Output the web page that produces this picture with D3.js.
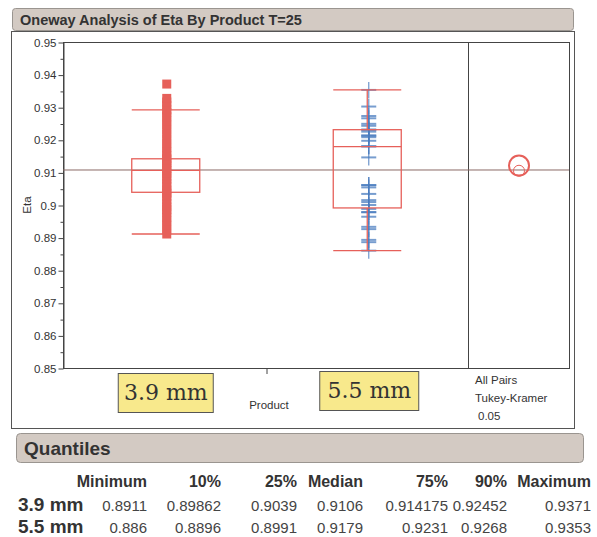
<!DOCTYPE html>
<html>
<head>
<meta charset="utf-8">
<script src="https://cdn.jsdelivr.net/npm/d3@7"></script>
<style>
  body { margin: 0; background: #fff; }
  text { font-family: "Liberation Sans", Arial, sans-serif; fill: #333; }
</style>
</head>
<body>
<svg id="chart" width="597" height="537"></svg>
<script>

// data
var products = ['3.9 mm', '5.5 mm'];
var eta39 = [0.8911, 0.8924, 0.8938, 0.8951, 0.8963, 0.8977, 0.8986, 0.8994, 0.9005, 0.9016,
             0.9027, 0.9035, 0.9039, 0.9046, 0.9058, 0.9067, 0.9079, 0.9088, 0.9097, 0.9106,
             0.9112, 0.9121, 0.9130, 0.9138, 0.9142, 0.9151, 0.9163, 0.9176, 0.9189, 0.9203,
             0.9217, 0.9231, 0.9245, 0.9258, 0.9271, 0.9284, 0.9292, 0.9305, 0.9316, 0.9327, 0.9371];
var eta55 = [0.9353, 0.9302, 0.9273, 0.9266, 0.9249, 0.9243, 0.9231, 0.9231, 0.9225, 0.9213,
             0.9213, 0.9208, 0.9197, 0.9180, 0.9180, 0.9146, 0.9061, 0.9061, 0.9054, 0.9034,
             0.9015, 0.9009, 0.9000, 0.8988, 0.8978, 0.8978, 0.8964, 0.8933, 0.8926, 0.8893,
             0.8886, 0.8860];
var quantileLabels = ['Minimum', '10%', '25%', 'Median', '75%', '90%', 'Maximum'];
var quantileText = [
    ['0.8911', '0.89862', '0.9039', '0.9106', '0.914175', '0.92452', '0.9371'],
    ['0.886', '0.8896', '0.8991', '0.9179', '0.9231', '0.9268', '0.9353']
];
var q25 = [0.9039, 0.8991];
var median = [0.9106, 0.9179];
var q75 = [0.914175, 0.9231];
var whiskerLow = [0.8911, 0.886];
var whiskerHigh = [0.9292, 0.9353];
var grandMean = 0.91074;
var groupMeans = [0.9105, 0.9121];
var circleRadius = [0.00169, 0.00307]; // comparison circle radius in eta units
var yTicks = d3.range(0.85, 0.9501, 0.01);
var yMinorTicks = d3.range(0.855, 0.95, 0.01);

var red = '#e6605a';
var blue = '#4a7cbf';

var svg = d3.select('#chart');

// plot geometry
var plotLeft = 63, plotRight = 468, panelRight = 569;
var plotTop = 42, plotBottom = 368;

var xScale = d3.scalePoint()
    .domain(products)
    .range([plotLeft + 2, plotRight])
    .padding(0.5);

var yScale = d3.scaleLinear()
    .domain([0.85, 0.95])
    .range([plotBottom, plotTop]);

// title bar
svg.append('rect')
    .attr('x', 12.5).attr('y', 8.5)
    .attr('width', 561).attr('height', 22)
    .attr('rx', 3)
    .attr('fill', '#d3cac3')
    .attr('stroke', '#9a9590');
svg.append('text')
    .attr('x', 20).attr('y', 25)
    .style('font-weight', 'bold')
    .style('font-size', '14.5px')
    .text('Oneway Analysis of Eta By Product T=25');

// outer frame
svg.append('rect')
    .attr('x', 11.5).attr('y', 31.5)
    .attr('width', 563).attr('height', 397)
    .attr('fill', 'none')
    .attr('stroke', '#555');

// plot frame and the comparison panel
svg.append('rect')
    .attr('x', plotLeft + 0.5).attr('y', plotTop + 0.5)
    .attr('width', panelRight - plotLeft).attr('height', plotBottom - plotTop)
    .attr('fill', 'none')
    .attr('stroke', '#444');
svg.append('line')
    .attr('x1', plotRight + 0.5).attr('x2', plotRight + 0.5)
    .attr('y1', plotTop).attr('y2', plotBottom)
    .attr('stroke', '#444');

// y axis
var yAxis = d3.axisLeft(yScale)
    .tickValues(yTicks)
    .tickFormat(d3.format('~g'))
    .tickSize(5)
    .tickPadding(2)
    .tickSizeOuter(0);
var yAxisG = svg.append('g')
    .attr('transform', `translate(${plotLeft + 0.5},0.5)`)
    .call(yAxis);
yAxisG.select('.domain').attr('stroke', '#444');
yAxisG.selectAll('.tick line').attr('stroke', '#444');
yAxisG.selectAll('.tick text').style('font-size', '11.5px').attr('fill', '#333')
    .style('font-family', '"Liberation Sans", Arial, sans-serif');

svg.append('g')
    .attr('transform', `translate(${plotLeft + 0.5},0.5)`)
    .call(d3.axisLeft(yScale).tickValues(yMinorTicks).tickSize(3).tickFormat(''))
    .call(g => g.select('.domain').remove())
    .selectAll('.tick line').attr('stroke', '#444');

svg.append('text')
    .attr('transform', `translate(31, ${yScale(0.9)}) rotate(-90)`)
    .attr('text-anchor', 'middle')
    .style('font-size', '11.5px')
    .text('Eta');

// x axis: single tick between the groups
svg.append('line')
    .attr('x1', (plotLeft + plotRight) / 2 + 1.5).attr('x2', (plotLeft + plotRight) / 2 + 1.5)
    .attr('y1', plotBottom).attr('y2', plotBottom + 6)
    .attr('stroke', '#444');

// grand mean line
svg.append('line')
    .attr('x1', plotLeft).attr('x2', panelRight)
    .attr('y1', yScale(grandMean)).attr('y2', yScale(grandMean))
    .attr('stroke', '#8a6a65');

// points for 3.9 mm: filled squares
svg.append('g').selectAll('rect')
    .data(eta39)
    .join('rect')
    .attr('x', xScale(products[0]) - 4.5 + 1)
    .attr('y', d => yScale(d) - 4.5)
    .attr('width', 9).attr('height', 9)
    .attr('fill', red);

// points for 5.5 mm: plus markers
var plusG = svg.append('g')
    .attr('stroke', blue)
    .attr('stroke-opacity', 0.75)
    .attr('stroke-width', 2);
eta55.forEach(function(d){
    var cx = xScale(products[1]) + 1.5;
    plusG.append('line')
        .attr('x1', cx - 7.5).attr('x2', cx + 7.5)
        .attr('y1', yScale(d)).attr('y2', yScale(d));
    plusG.append('line')
        .attr('x1', cx).attr('x2', cx)
        .attr('y1', yScale(d) - 8).attr('y2', yScale(d) + 8)
        .attr('stroke-width', 1.3);
});

// outlier box plots
var boxHalf = 34;
products.forEach(function(p, i){
    var cx = xScale(p);
    var g = svg.append('g')
        .attr('stroke', red)
        .attr('stroke-width', 1.3)
        .attr('fill', 'none');
    g.append('rect')
        .attr('x', cx - boxHalf).attr('y', yScale(q75[i]))
        .attr('width', boxHalf * 2).attr('height', yScale(q25[i]) - yScale(q75[i]));
    g.append('line')
        .attr('x1', cx - boxHalf).attr('x2', cx + boxHalf)
        .attr('y1', yScale(median[i])).attr('y2', yScale(median[i]));
    [whiskerLow[i], whiskerHigh[i]].forEach(function(w){
        g.append('line')
            .attr('x1', cx - boxHalf).attr('x2', cx + boxHalf)
            .attr('y1', yScale(w)).attr('y2', yScale(w));
    });
    g.append('line')
        .attr('x1', cx).attr('x2', cx)
        .attr('y1', yScale(whiskerHigh[i])).attr('y2', yScale(q75[i]));
    g.append('line')
        .attr('x1', cx).attr('x2', cx)
        .attr('y1', yScale(q25[i])).attr('y2', yScale(whiskerLow[i]));
});

// comparison circles
var circleX = (plotRight + panelRight) / 2 + 0.5;
groupMeans.forEach(function(m, i){
    svg.append('circle')
        .attr('cx', circleX)
        .attr('cy', yScale(m))
        .attr('r', yScale(0.9) - yScale(0.9 + circleRadius[i]))
        .attr('fill', 'none')
        .attr('stroke', red)
        .attr('stroke-width', i == 1 ? 2 : 1);
});

// category labels in yellow boxes
products.forEach(function(p, i){
    var cx = xScale(p);
    var lg = svg.append('g').attr('transform', `translate(${cx}, ${i == 0 ? 373 : 371})`);
    lg.append('rect')
        .attr('x', -47.5).attr('y', 0.5)
        .attr('width', 95 + i * 4).attr('height', 39)
        .attr('fill', '#f8e98c')
        .attr('stroke', '#555');
    lg.append('text')
        .attr('x', i * 2).attr('y', 27)
        .attr('text-anchor', 'middle')
        .style('font-family', '"DejaVu Serif", serif')
        .style('font-size', '22px')
        .text(p);
});

svg.append('text')
    .attr('x', 269).attr('y', 409)
    .attr('text-anchor', 'middle')
    .style('font-size', '11.5px')
    .text('Product');

var infoLines = ['All Pairs', 'Tukey-Kramer', ' 0.05'];
infoLines.forEach(function(t, i){
    svg.append('text')
        .attr('x', 475 + (i == 2 ? 3 : 0)).attr('y', 384 + i * 18)
        .style('font-size', '11.5px')
        .text(t.trim());
});

// quantiles header bar
svg.append('rect')
    .attr('x', 16.5).attr('y', 433.5)
    .attr('width', 567).attr('height', 29)
    .attr('rx', 4)
    .attr('fill', '#d3cac3')
    .attr('stroke', '#9a9590');
svg.append('text')
    .attr('x', 24).attr('y', 455)
    .style('font-weight', 'bold')
    .style('font-size', '19px')
    .text('Quantiles');

// quantiles table
var colRight = [147, 221, 297, 363, 448, 507, 591];
quantileLabels.forEach(function(l, j){
    svg.append('text')
        .attr('x', colRight[j]).attr('y', 487)
        .attr('text-anchor', 'end')
        .style('font-weight', 'bold')
        .style('font-size', '16px')
        .text(l);
});
products.forEach(function(p, i){
    var y = 511 + i * 22;
    svg.append('text')
        .attr('x', 18).attr('y', y)
        .style('font-weight', 'bold')
        .style('font-size', '19px')
        .text(p);
    quantileText[i].forEach(function(v, j){
        svg.append('text')
            .attr('x', colRight[j]).attr('y', y)
            .attr('text-anchor', 'end')
            .style('font-size', '15px')
            .style('fill', '#444')
            .text(v);
    });
});

</script>
</body>
</html>
